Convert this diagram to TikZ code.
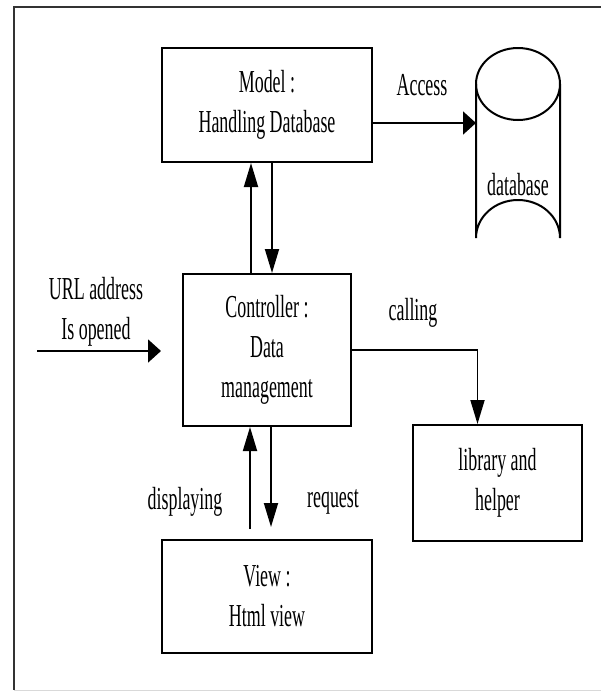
\documentclass[tikz,border=0pt]{standalone}
\usepackage{fontspec}
\setmainfont{Liberation Serif}[FakeStretch=0.56]
\usetikzlibrary{arrows.meta}

\begin{document}
\begin{tikzpicture}[x=1pt,y=-1pt,
	box/.style={draw,line width=2pt,inner sep=0pt,align=center,minimum width=210pt,minimum height=114pt},
	lbl/.style={align=center,inner sep=0pt},
	harr/.style={line width=1.8pt,-{Triangle[length=13pt,width=23pt]}},
	varr/.style={line width=1.8pt,-{Triangle[length=24pt,width=14pt]}}]
	\fontsize{32}{40}\selectfont
	\useasboundingbox (0,0) rectangle (601,691);
	% frame
	\draw[line width=2pt,black!80] (602,7) -- (14,7) -- (14,690);
	\draw[line width=1pt,black!15] (14,690) -- (602,690);

	\node[box] at (267,105) (model) {Model :\\Handling Database};
	\node[box,minimum width=168pt,minimum height=152pt] at (267,350) (ctrl) {Controller :\\Data\\management};
	\node[box,minimum height=113pt] at (267,596.5) (view) {View :\\Html view};
	\node[box,minimum width=169pt,minimum height=116pt] at (497.5,483) (lib) {library and\\helper};

	% database cylinder
	\draw[line width=2pt] (518,84) ellipse [x radius=42,y radius=36];
	\draw[line width=2pt] (476,84) -- (476,238) arc[start angle=180,end angle=360,x radius=42,y radius=38] -- (560,84);
	\node[lbl] at (518,185) (db) {database};
	\coordinate (dbIn) at (476,123);
	\coordinate (url) at (37,351);

	\node[lbl] at (422,85) (access) {Access};
	\node[lbl] at (96,312) (urltxt) {URL address\\Is opened};
	\node[lbl] at (413,313) (calling) {calling};
	\node[lbl] at (185,502) (disp) {displaying};
	\node[lbl] at (333,502) (req) {request};

	\draw[harr] (model.east |- dbIn) -- (dbIn);
	\draw[harr,shorten >=21pt] (url) -- (url -| ctrl.west);
	\draw[varr] ([xshift=-16pt]ctrl.north) -- ([xshift=-16pt]model.south);
	\draw[varr] ([xshift=5pt]model.south) -- ([xshift=5pt]ctrl.north);
	\draw[varr,shorten <=10pt] ([xshift=-17pt]view.north) -- ([xshift=-17pt]ctrl.south);
	\draw[varr,shorten >=12pt] ([xshift=4pt]ctrl.south) -- ([xshift=4pt]view.north);
	\draw[varr] (ctrl.east) -| ([xshift=-20pt]lib.north);
\end{tikzpicture}
\end{document}
